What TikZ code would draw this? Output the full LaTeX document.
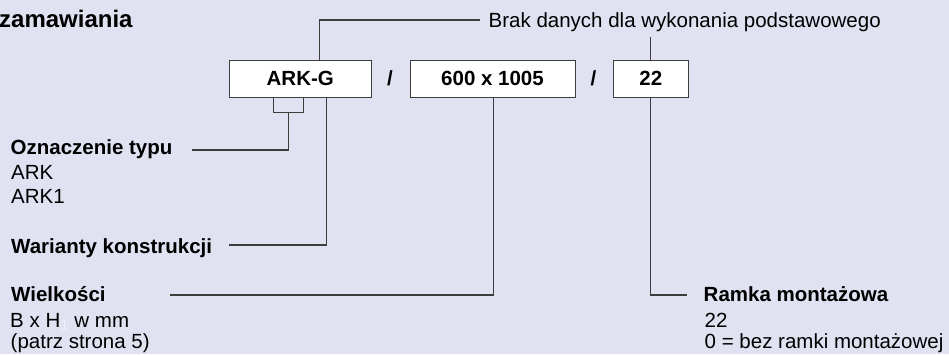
\documentclass[tikz,border=0pt]{standalone}
\usepackage{fontspec}
\setmainfont{Liberation Sans}
\definecolor{bgcol}{RGB}{224,225,241}
\definecolor{linecol}{RGB}{60,60,60}
\definecolor{faint}{RGB}{240,240,248}
\newcommand{\bodyfont}{\fontsize{20.5}{24}\selectfont}
\tikzset{
    box/.style={draw=linecol, line width=1pt, fill=white, inner sep=0pt, minimum height=37pt, font=\bfseries\bodyfont},
    lbl/.style={inner sep=0pt, anchor=base west, font=\bodyfont},
    head/.style={lbl, font=\bfseries\bodyfont},
    lead/.style={draw=linecol, line width=1.1pt},
}
\begin{document}
\begin{tikzpicture}[x=1pt, y=-1pt]
        \fill[bgcol] (0, 0) rectangle (949, 354);
        \useasboundingbox (0, 0) rectangle (949, 354);

        \node[lbl, font=\bfseries\fontsize{24}{28}\selectfont] (title) at (-1, 27) {zamawiania};

        \node[box, minimum width=142.5pt] (ark) at (300.25, 78.5) {ARK-G};
        \node[box, minimum width=165pt] (size) at (492.5, 78.5) {600 x 1005};
        \node[box, minimum width=75pt] (ramka) at (650.75, 78.5) {22};
        \node[lbl, anchor=base, font=\bfseries\bodyfont] (slasha) at (390, 85) {/};
        \node[lbl, anchor=base, font=\bfseries\bodyfont] (slashb) at (593.5, 85) {/};

        \node[lbl] (brak) at (488.5, 27) {Brak danych dla wykonania podstawowego};

        \node[head] (typ) at (10.5, 154) {Oznaczenie typu};
        \node[lbl] (typa) at (11, 179) {ARK};
        \node[lbl] (typb) at (11, 203) {ARK1};
        \node[head] (var) at (11, 253) {Warianty konstrukcji};
        \node[head] (wlk) at (11, 301) {Wielkości};
        \node[lbl] (wlka) at (10, 327) {B x H\textsubscript{\textcolor{faint}{1}} w mm};
        \node[lbl] (wlkb) at (10.5, 348) {(patrz strona 5)};
        \node[head] (ram) at (703.5, 301) {Ramka montażowa};
        \node[lbl] (rama) at (704.5, 327) {22};
        \node[lbl] (ramb) at (704.5, 348) {0 = bez ramki montażowej};

        \coordinate (brakend) at (480, 20);
        \coordinate (brakstem) at (650.75, 37);
        \coordinate (typend) at (192, 150);
        \coordinate (varend) at (229, 245);
        \coordinate (wlkend) at (170, 295);
        \coordinate (ramend) at (687, 295);

        \draw[lead] ([xshift=19pt]ark.north) |- (brakend);
        \draw[lead] (ramka.north) -- (brakstem);
        \draw[lead] ([xshift=-27pt]ark.south) -- ++(0, 15) -| ([xshift=3pt]ark.south);
        \draw[lead] ([xshift=-12pt, yshift=-15pt]ark.south) |- (typend);
        \draw[lead] ([xshift=26.5pt]ark.south) |- (varend);
        \draw[lead] ([xshift=0.75pt]size.south) |- (wlkend);
        \draw[lead] (ramka.south) |- (ramend);
    \end{tikzpicture}
\end{document}
